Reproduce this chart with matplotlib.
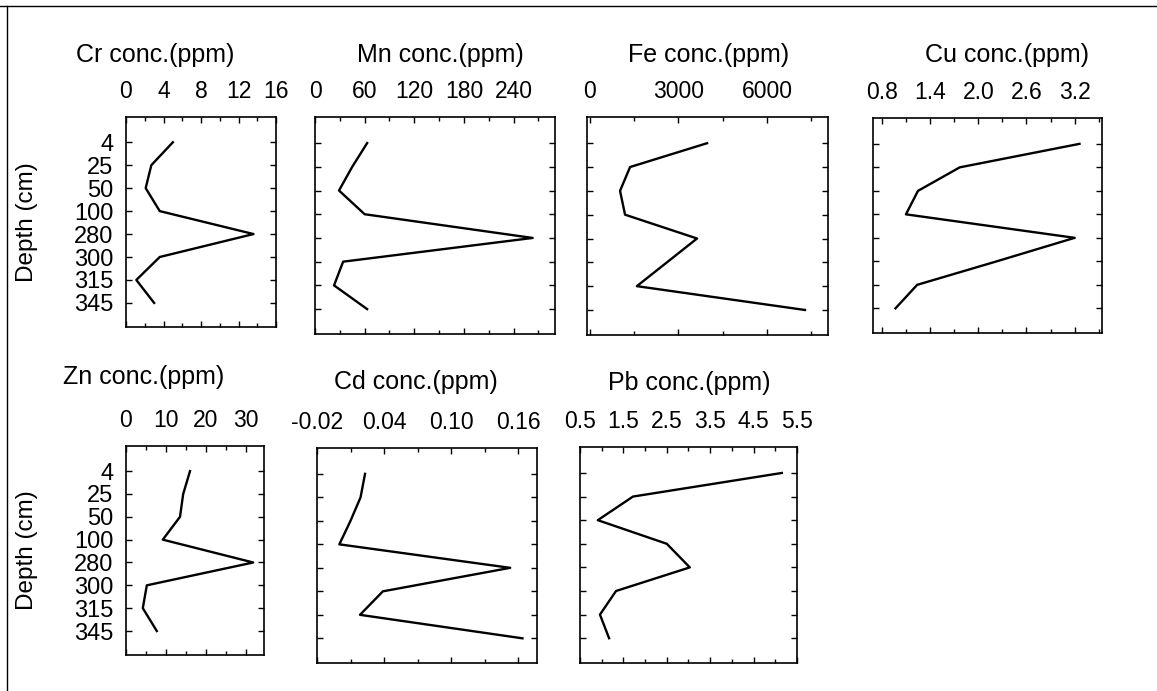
import matplotlib
matplotlib.use("Agg")
import matplotlib.pyplot as plt
from matplotlib.ticker import AutoMinorLocator
from matplotlib.lines import Line2D

plt.rcParams['font.family'] = ['Liberation Sans', 'DejaVu Sans']

# depth categories (cm), plotted at equal spacing
depths = ["4", "25", "50", "100", "280", "300", "315", "345"]

cr = [5.0, 2.7, 2.1, 3.6, 13.6, 3.6, 1.1, 3.0]
mn = [63, 45, 29, 60, 263, 34, 23, 63]
fe = [3970, 1360, 1020, 1190, 3630, 2610, 1590, 7290]
cu = [3.26, 1.77, 1.25, 1.10, 3.20, 2.23, 1.24, 0.97]
zn = [16.0, 14.3, 13.5, 9.2, 31.8, 5.2, 4.2, 7.7]
cd = [0.023, 0.019, 0.010, 0.000, 0.153, 0.039, 0.0185, 0.164]
pb = [5.15, 1.72, 0.91, 2.50, 3.03, 1.33, 0.96, 1.17]

cr_ticks = [0, 4, 8, 12, 16]
mn_ticks = [0, 60, 120, 180, 240]
fe_ticks = [0, 3000, 6000]
cu_ticks = [0.8, 1.4, 2.0, 2.6, 3.2]
zn_ticks = [0, 10, 20, 30]
cd_ticks = [-0.02, 0.04, 0.10, 0.16]
pb_ticks = [0.5, 1.5, 2.5, 3.5, 4.5, 5.5]

W, H = 1157, 691
fig = plt.figure(figsize=(W / 100, H / 100), dpi=100)

# box in pixels (left, top, right, bottom), title centre, x limits
panels = [
    ("Cr", cr, cr_ticks, "{:g}", (0, 16), (126, 117, 276, 327), (155, 55), True),
    ("Mn", mn, mn_ticks, "{:g}", (0, 290), (315, 117, 555, 334), (440, 55), False),
    ("Fe", fe, fe_ticks, "{:g}", (-100, 8070), (587, 117, 828, 335), (709, 55), False),
    ("Cu", cu, cu_ticks, "{:.1f}", (0.69, 3.54), (873, 118, 1102, 333), (1007, 55), False),
    ("Zn", zn, zn_ticks, "{:g}", (0, 34.5), (126, 446, 264, 655), (144, 377), True),
    ("Cd", cd, cd_ticks, "{:.2f}", (-0.02, 0.177), (317, 448, 537, 663), (416, 382), False),
    ("Pb", pb, pb_ticks, "{:.1f}", (0.5, 5.5), (580, 447, 797, 663), (689, 383), False),
]

pos = list(range(len(depths)))

for name, vals, ticks, fmt, xlim, box, tpos, first in panels:
    l, t, r, b = box
    ax = fig.add_axes([l / W, 1 - b / H, (r - l) / W, (b - t) / H])
    ax.plot(vals, pos, color="black", lw=1.7)
    ax.set_xlim(*xlim)
    ax.set_ylim(8.05, -1.1)
    ax.set_xticks(ticks)
    ax.set_xticklabels([fmt.format(v) for v in ticks])
    ax.xaxis.set_minor_locator(AutoMinorLocator(2))
    ax.set_yticks(pos)
    ax.set_yticklabels(depths if first else [])
    ax.tick_params(axis="x", which="both", direction="in", top=True, bottom=True,
                   labeltop=True, labelbottom=False, labelsize=16.5, pad=10, length=4, width=1)
    ax.tick_params(axis="x", which="minor", length=3)
    ax.tick_params(axis="y", direction="in", left=True, right=True, labelsize=17,
                   pad=9, length=4, width=1)
    for s in ax.spines.values():
        s.set_linewidth(1.2)
    if first:
        ax.set_ylabel("Depth (cm)", fontsize=17.5)
        ax.yaxis.set_label_coords((38 - l) / (r - l), 0.5)
    fig.text(tpos[0] / W, 1 - tpos[1] / H, name + " conc.(ppm)", ha="center", va="center", fontsize=18)

# scanned page edges
fig.add_artist(Line2D([0, 1], [1 - 6 / H, 1 - 6 / H], color="black", lw=1))
fig.add_artist(Line2D([7 / W, 7 / W], [0, 1 - 6 / H], color="black", lw=1))

fig.savefig("out.png", dpi=100, facecolor="white")
